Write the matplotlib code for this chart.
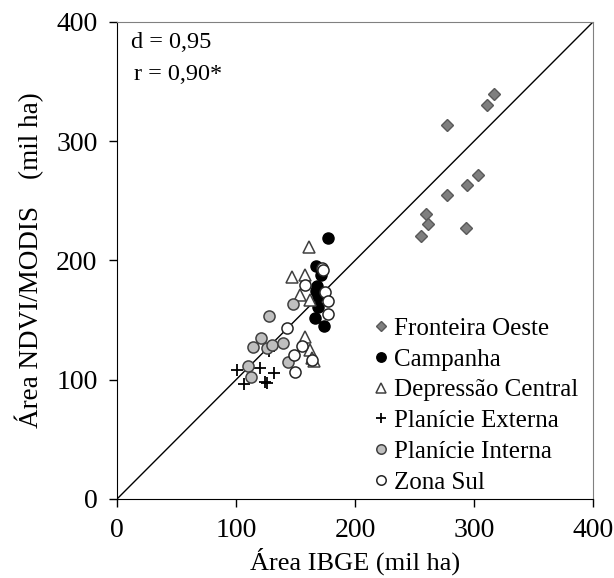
import matplotlib
matplotlib.use("Agg")
import matplotlib.pyplot as plt

# Fronteira Oeste
fo_x = [316.5, 311, 277, 303.6, 294.4, 277, 259.7, 261.4, 255.4, 293]
fo_y = [339.6, 330.7, 313.7, 272, 263.5, 255, 239, 231, 220.6, 227.4]
# Campanha
ca_x = [177.6, 167, 171, 168, 167, 169, 169, 166, 174]
ca_y = [219, 195, 188, 179, 174, 170, 161, 152, 145]
# Depressão Central
dc_x = [161.6, 146.8, 158, 153.8, 162.2, 158, 162.2, 163.6, 165.5]
dc_y = [211.6, 186.4, 187.8, 171, 166.9, 136.1, 124.9, 118, 116]
# Planície Externa
pe_x = [101.1, 120.2, 132.2, 106.7, 124.4, 126.3, 128]
pe_y = [107.8, 110.1, 105.9, 96.4, 98.4, 97, 124]
# Planície Interna
pi_x = [127.7, 147.5, 121, 114.5, 126, 130.4, 139.3, 110.2, 112.9, 143.6]
pi_y = [153.5, 163.3, 135, 127.3, 126.3, 128.8, 130.4, 111.9, 102.6, 115]
# Zona Sul
zs_x = [172, 158, 174.8, 177, 177, 142.6, 155.2, 149, 149.6, 163.6, 173]
zs_y = [193.5, 179.5, 173.8, 166, 155.3, 143.1, 128.3, 120.8, 106.7, 116.6, 192]

plt.rcParams['font.family'] = ['Liberation Serif', 'DejaVu Serif']

fig = plt.figure(figsize=(6.14, 5.78), dpi=100)
ax = fig.add_axes([0.1906, 0.1367, 0.7752, 0.8253])

ax.plot([0, 400], [0, 400], color='black', lw=1, zorder=1)

ms = 8
ax.plot(fo_x, fo_y, 'D', color='#7f7f7f', mec='#595959', mew=1, ms=6.5, ls='none',
        label='Fronteira Oeste', zorder=3)
ax.plot(ca_x, ca_y, 'o', color='black', mec='black', ms=ms, ls='none',
        label='Campanha', zorder=3)
ax.plot(dc_x, dc_y, '^', mfc='white', mec='#404040', mew=1.1, ms=ms, ls='none',
        label='Depressão Central', zorder=3)
ax.plot(pe_x, pe_y, '+', color='black', mew=1.3, ms=9, ls='none',
        label='Planície Externa', zorder=3)
ax.plot(pi_x, pi_y, 'o', mfc='#bfbfbf', mec='#404040', mew=1.1, ms=ms, ls='none',
        label='Planície Interna', zorder=3)
ax.plot(zs_x, zs_y, 'o', mfc='white', mec='#262626', mew=1.1, ms=ms, ls='none',
        label='Zona Sul', zorder=3)

ax.set_xlim(0, 400)
ax.set_ylim(0, 400)
ax.set_xticks([0, 100, 200, 300, 400])
ax.set_yticks([0, 100, 200, 300, 400])
ax.tick_params(labelsize=20, direction='out', length=6, width=1, pad=8)
ax.set_xlabel('Área IBGE (mil ha)', fontsize=19, labelpad=3)
ax.set_ylabel('Área NDVI/MODIS    (mil ha)', fontsize=19.5, labelpad=9)

for s in ['top', 'right']:
    ax.spines[s].set_color('#808080')
for s in ['left', 'bottom']:
    ax.spines[s].set_color('black')

ax.text(0.03, 0.957, 'd = 0,95', transform=ax.transAxes, fontsize=17.5, va='center')
ax.text(0.035, 0.89, 'r = 0,90*', transform=ax.transAxes, fontsize=17.5, va='center')

ax.legend(loc='lower right', bbox_to_anchor=(1.0, -0.02), frameon=False, fontsize=18,
          markerscale=0.85, handlelength=0.6, handletextpad=0.2, labelspacing=0.33,
          borderaxespad=0.2)

fig.savefig('out.png', dpi=100)
